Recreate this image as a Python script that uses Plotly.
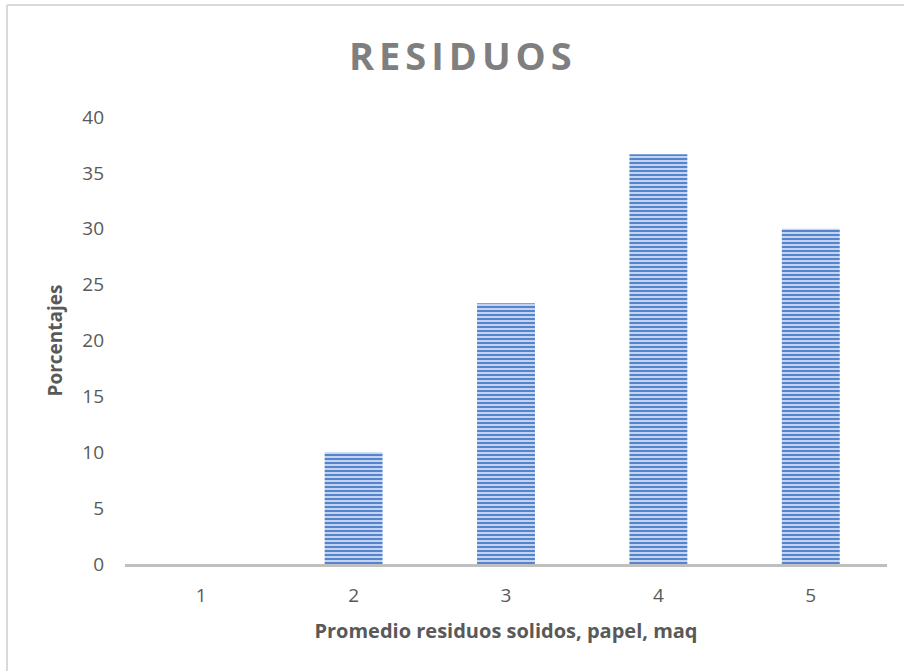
import plotly.graph_objects as go

categories = ["1", "2", "3", "4", "5"]
values = [0, 10, 23.33, 36.67, 30]
y_ticks = [0, 5, 10, 15, 20, 25, 30, 35, 40]

FONT = "Open Sans"
fig = go.Figure()
fig.add_trace(go.Bar(
    x=categories, y=values, width=0.38,
    marker=dict(
        color="#d0ddf3",
        line=dict(width=0),
        pattern=dict(shape="-", fgcolor="#5584ce", bgcolor="#d0ddf3", fgopacity=1,
                     size=4, solidity=0.55),
    ),
    showlegend=False,
))

fig.update_layout(
    width=904, height=671,
    margin=dict(l=125, r=17, t=117, b=107),
    paper_bgcolor="white", plot_bgcolor="white",
    title=dict(text='<span style="letter-spacing:5px"><b>RESIDUOS</b></span>', x=0.512,
               xanchor="center", y=0.915, yanchor="middle",
               font=dict(family=FONT, size=38, color="#7f7f7f")),
    font=dict(family=FONT, color="#595959"),
    xaxis=dict(
        type="category", showgrid=False, showline=True, linecolor="#bfbfbf", linewidth=3,
        ticks="", tickfont=dict(size=19, color="#595959"), ticklabelstandoff=12,
        title=dict(text="<b>Promedio residuos solidos, papel, maq</b>",
                   font=dict(size=20, color="#595959"), standoff=18),
    ),
    yaxis=dict(
        range=[0, 40], tickvals=y_ticks, showgrid=False, zeroline=False, showline=False,
        ticks="", tickfont=dict(size=19, color="#595959"), ticklabelstandoff=20,
        title=dict(text="<b>Porcentajes</b>", font=dict(size=19, color="#595959"), standoff=14),
    ),
    shapes=[
        dict(type="line", xref="paper", yref="paper", x0=(7 - 125) / 762, x1=1.2,
             y0=(564 - 5) / 447, y1=(564 - 5) / 447, line=dict(color="#d9d9d9", width=2)),
        dict(type="line", xref="paper", yref="paper", x0=(7 - 125) / 762, x1=(7 - 125) / 762,
             y0=(564 - 5) / 447, y1=-0.5, line=dict(color="#d9d9d9", width=2)),
    ],
)

fig.write_html("out.html")
